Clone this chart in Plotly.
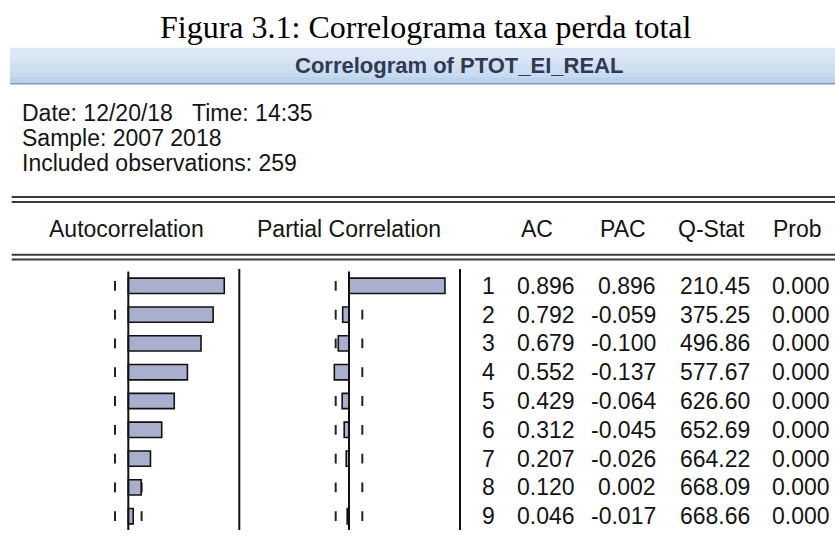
import plotly.graph_objects as go

# ---------------- data ----------------
lags = [1, 2, 3, 4, 5, 6, 7, 8, 9]
ac = [0.896, 0.792, 0.679, 0.552, 0.429, 0.312, 0.207, 0.120, 0.046]
pac = [0.896, -0.059, -0.100, -0.137, -0.064, -0.045, -0.026, 0.002, -0.017]
qstat = [210.45, 375.25, 496.86, 577.67, 626.60, 652.69, 664.22, 668.09, 668.66]
prob = [0.000, 0.000, 0.000, 0.000, 0.000, 0.000, 0.000, 0.000, 0.000]
n_obs = 259
col_headers = ["AC", "PAC", "Q-Stat", "Prob"]
panel_headers = ["Autocorrelation", "Partial Correlation"]
title_text = "Figura 3.1: Correlograma taxa perda total"
banner_text = "Correlogram of PTOT_EI_REAL"
info_lines = ["Date: 12/20/18\u00a0\u00a0\u00a0Time: 14:35", "Sample: 2007 2018",
              "Included observations: 259"]

# ---------------- layout helpers ----------------
W, H = 835, 542
def px(x):
    return x / W
def py(y):
    return 1 - y / H

SANS = "Liberation Sans, Arial, sans-serif"
SERIF = "Liberation Serif, Times New Roman, serif"
BAR_FILL = "#a9afcc"
TXT = "#141414"
bound = 2 / n_obs ** 0.5

fig = go.Figure()
fig.add_trace(go.Bar(x=ac, y=lags, orientation="h", width=0.53,
                     marker=dict(color=BAR_FILL, line=dict(color="#111111", width=1.6)),
                     xaxis="x", yaxis="y", hoverinfo="skip"))
fig.add_trace(go.Bar(x=pac, y=lags, orientation="h", width=0.53,
                     marker=dict(color=BAR_FILL, line=dict(color="#111111", width=1.6)),
                     xaxis="x2", yaxis="y2", hoverinfo="skip"))

shapes = []
# confidence-bound ticks (below bars)
for xr in ["x", "x2"]:
    yr = "y" if xr == "x" else "y2"
    for L in lags:
        for b in (-bound, bound):
            shapes.append(dict(type="line", xref=xr, yref=yr,
                               x0=b, x1=b, y0=L - 0.17, y1=L + 0.17,
                               line=dict(color="#222222", width=2), layer="below"))
    # zero line
    shapes.append(dict(type="line", xref=xr, yref=yr,
                       x0=0, x1=0, y0=0.42, y1=9.48,
                       line=dict(color="#111111", width=2), layer="above"))

# separators
for sx in (239.3, 460.0):
    shapes.append(dict(type="line", xref="paper", yref="paper",
                       x0=px(sx), x1=px(sx), y0=py(269), y1=py(530),
                       line=dict(color="#111111", width=2)))
# double rules
for ry in (197.0, 202.0, 254.8, 259.5):
    shapes.append(dict(type="line", xref="paper", yref="paper",
                       x0=px(11.7), x1=1, y0=py(ry), y1=py(ry),
                       line=dict(color="#3a3a3a", width=2)))

# banner gradient
top_c = (0xdf, 0xea, 0xf7)
bot_c = (0xb9, 0xcf, 0xea)
b_top, b_bot = 47.7, 83.0
nstrip = 36
for i in range(nstrip):
    t = i / (nstrip - 1)
    c = tuple(round(top_c[k] + (bot_c[k] - top_c[k]) * t) for k in range(3))
    y0 = b_top + (b_bot - b_top) * i / nstrip
    y1 = b_top + (b_bot - b_top) * (i + 1) / nstrip + 0.3
    shapes.append(dict(type="rect", xref="paper", yref="paper",
                       x0=px(10), x1=1, y0=py(y1), y1=py(y0),
                       fillcolor="rgb(%d,%d,%d)" % c, line=dict(width=0), layer="below"))
shapes.append(dict(type="line", xref="paper", yref="paper",
                   x0=px(10), x1=1, y0=py(83.8), y1=py(83.8),
                   line=dict(color="#8a99ae", width=1.6)))

ann = []
ann.append(dict(text=title_text, x=px(425.5), y=py(27), xref="paper", yref="paper",
                xanchor="center", yanchor="middle", showarrow=False,
                font=dict(family=SERIF, size=32, color="#000000")))
ann.append(dict(text="<b>" + banner_text + "</b>", x=px(459), y=py(65), xref="paper", yref="paper",
                xanchor="center", yanchor="middle", showarrow=False,
                font=dict(family=SANS, size=22, color="#2e3b52")))
for i, line in enumerate(info_lines):
    ann.append(dict(text=line, x=px(20), y=py(113 + 25.2 * i), xref="paper", yref="paper",
                    xanchor="left", yanchor="middle", showarrow=False,
                    font=dict(family=SANS, size=23, color=TXT)))
for txt, cx in zip(panel_headers, (126.7, 349.0)):
    ann.append(dict(text=txt, x=px(cx), y=py(229), xref="paper", yref="paper",
                    xanchor="center", yanchor="middle", showarrow=False,
                    font=dict(family=SANS, size=23, color=TXT)))
for txt, cx in zip(col_headers, (536.7, 623.0, 711.7, 797.7)):
    ann.append(dict(text=txt, x=px(cx), y=py(229), xref="paper", yref="paper",
                    xanchor="center", yanchor="middle", showarrow=False,
                    font=dict(family=SANS, size=23, color=TXT)))

cols = [
    ([str(L) for L in lags], 497.0),
    (["%.3f" % v for v in ac], 576.7),
    (["%.3f" % v for v in pac], 658.3),
    (["%.2f" % v for v in qstat], 752.3),
    (["%.3f" % v for v in prob], 831.7),
]
for texts, rx in cols:
    for L, t in zip(lags, texts):
        ann.append(dict(text=t, x=px(rx), y=L, xref="paper", yref="y",
                        xanchor="right", yanchor="middle", showarrow=False,
                        font=dict(family=SANS, size=23, color=TXT)))

ydom = [py(530.6), py(271.4)]
axis_hidden = dict(visible=False, showgrid=False, zeroline=False, fixedrange=True)
fig.update_layout(
    width=W, height=H,
    margin=dict(l=0, r=0, t=0, b=0),
    paper_bgcolor="white", plot_bgcolor="rgba(0,0,0,0)",
    showlegend=False,
    xaxis=dict(domain=[px(128.3 - 107.1), px(128.3 + 107.1)], range=[-1, 1], anchor="y", **axis_hidden),
    xaxis2=dict(domain=[px(349.0 - 107.1), px(349.0 + 107.1)], range=[-1, 1], anchor="y2", **axis_hidden),
    yaxis=dict(domain=ydom, range=[9.5, 0.5], anchor="x", **axis_hidden),
    yaxis2=dict(domain=ydom, range=[9.5, 0.5], anchor="x2", **axis_hidden),
    shapes=shapes,
    annotations=ann,
)

fig.write_html("out.html",
               config={"displayModeBar": False},
               post_script="document.body.style.margin='0';document.body.style.overflow='hidden';")
